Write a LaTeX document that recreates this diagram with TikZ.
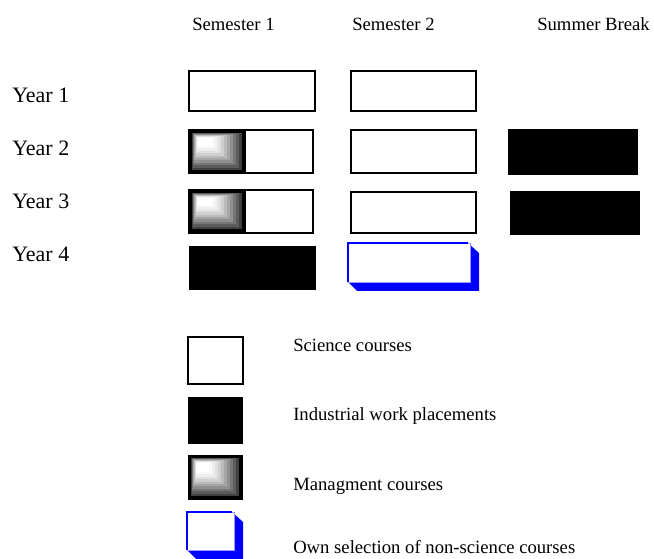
\documentclass[tikz,border=0pt]{standalone}
\usepackage{fontspec}
\setmainfont{Liberation Serif}
\usepackage{xcolor}
\usetikzlibrary{positioning}

\begin{document}
\begin{tikzpicture}[x=0.75pt, y=-0.75pt,
  lbl/.style={anchor=base west, inner sep=0pt, font=\fontsize{14}{16}\selectfont},
  yearlbl/.style={lbl, font=\fontsize{16.5}{18}\selectfont},
  science/.style={draw=black, line width=1.3pt, fill=white},
  work/.style={fill=black}]
\useasboundingbox (0,0) rectangle (654,559);

% column headings
\node[lbl] (sem1) at (192,31) {Semester 1};
\node[lbl] (sem2) at (352,31) {Semester 2};
\node[lbl] (summer) at (537,31) {Summer Break};

% row headings
\node[yearlbl] (year1) at (12,103) {Year 1};
\node[yearlbl] (year2) at (12,156) {Year 2};
\node[yearlbl] (year3) at (12,209) {Year 3};
\node[yearlbl] (year4) at (12,262) {Year 4};

% science courses
\draw[science] (189,71) rectangle (315,111);
\draw[science] (351,71) rectangle (476,111);
\draw[science] (189,130) rectangle (313,173);
\draw[science] (351,130) rectangle (476,173);
\draw[science] (189,190) rectangle (313,233);
\draw[science] (351,192) rectangle (476,233);
\draw[science] (188,337) rectangle (243,384);

% work placements
\fill[work] (508,129) rectangle (638,175);
\fill[work] (510,191) rectangle (640,235);
\fill[work] (189,246) rectangle (316,290);
\fill[work] (188,397) rectangle (243,444);

% management courses
\foreach \bx/\by/\bw/\bh in {189/130/57/44, 189/190/57/43, 188/455/55/45} {
  \fill[black] (\bx,\by) rectangle ++(\bw,\bh);
  \foreach \i in {0,...,10} {
    \pgfmathsetmacro{\tone}{75*(1-\i/10)^1.5}
    \fill[black!\tone] (\bx+3+0.6*\i, \by+3+0.5*\i) rectangle (\bx+\bw-4-3*\i, \by+\bh-4-2.4*\i);
  }
}

% own selection
\foreach \bx/\by/\bw/\bh in {348/243/122/39, 187/512/47/38} {
  \fill[blue] (\bx+\bw-2,\by) -- (\bx+\bw+9,\by+10) -- (\bx+\bw+9,\by+\bh+9)
    -- (\bx+9,\by+\bh+9) -- (\bx,\by+\bh) -- cycle;
  \filldraw[fill=white, draw=blue!40, line width=0.6pt] (\bx,\by) rectangle ++(\bw,\bh);
  \draw[blue, line width=1.5pt] (\bx,\by+\bh) -- (\bx,\by) -- (\bx+\bw-2,\by);
}

% legend
\node[lbl] (keysci) at (293,352) {Science courses};
\node[lbl] (keywork) at (293,421) {Industrial work placements};
\node[lbl] (keymgmt) at (293,491) {Managment courses};
\node[lbl] (keyown) at (293,554) {Own selection of non-science courses};
\end{tikzpicture}
\end{document}
